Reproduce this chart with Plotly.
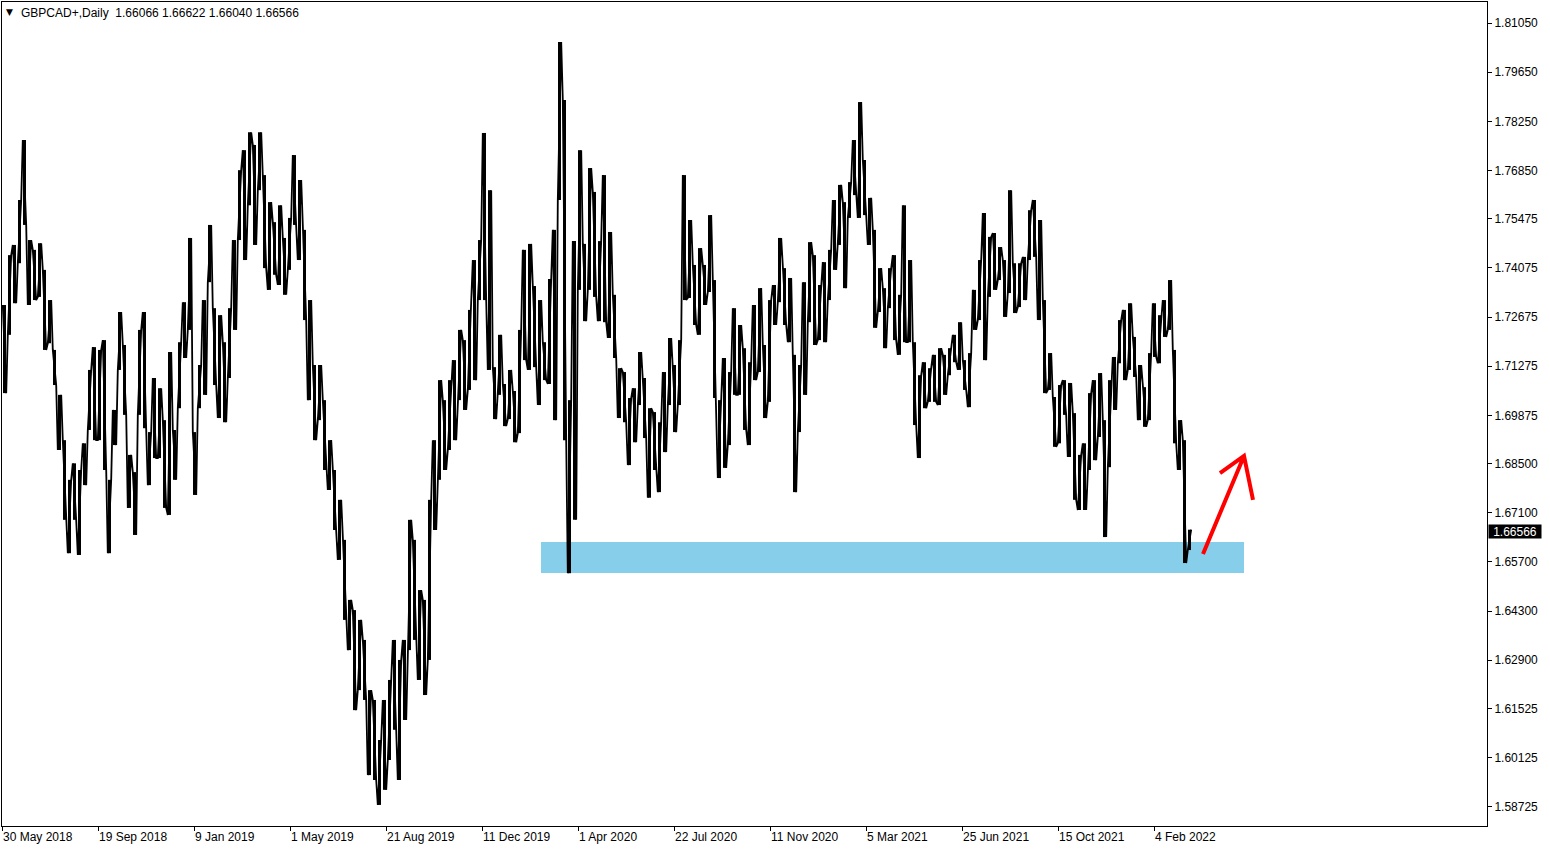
import plotly.graph_objects as go

# ---------------- data ----------------
symbol_title = "GBPCAD+,Daily"
last_ohlc = ["1.66066", "1.66622", "1.66040", "1.66566"]
last_close = 1.66566
bars_per_chunk = 5  # each entry below summarises 5 consecutive daily bars

highs = [
    1.7302, 1.7444, 1.7473, 1.7601, 1.7772, 1.7487, 1.7459, 1.7478, 1.7402, 1.7316,
    1.7174, 1.7046, 1.6917, 1.6804, 1.6851, 1.6832, 1.6908, 1.7117, 1.7182, 1.7174,
    1.7202, 1.6804, 1.7003, 1.7282, 1.7188, 1.6875, 1.6826, 1.7231, 1.7282, 1.6940,
    1.7094, 1.7065, 1.6974, 1.7168, 1.6946, 1.7196, 1.7310, 1.7493, 1.6940, 1.7131,
    1.7316, 1.7530, 1.7293, 1.7273, 1.7196, 1.7293, 1.7487, 1.7686, 1.7743, 1.7794,
    1.7758, 1.7794, 1.7672, 1.7595, 1.7538, 1.7586, 1.7493, 1.7550, 1.7729, 1.7658,
    1.7516, 1.7316, 1.7131, 1.7131, 1.7031, 1.6917, 1.6832, 1.6747, 1.6633, 1.6462,
    1.6433, 1.6405, 1.6348, 1.6205, 1.6177, 1.6063, 1.6177, 1.6234, 1.6348, 1.6291,
    1.6348, 1.6690, 1.6633, 1.6490, 1.6462, 1.6747, 1.6917, 1.7088, 1.7031, 1.7088,
    1.7145, 1.7231, 1.7202, 1.7288, 1.7430, 1.7487, 1.7792, 1.7629, 1.7125, 1.7217,
    1.7077, 1.7117, 1.7057, 1.7231, 1.7459, 1.7476, 1.7356, 1.7316, 1.7196, 1.7376,
    1.7516, 1.8051, 1.7886, 1.7031, 1.7484, 1.7743, 1.7476, 1.7692, 1.7624, 1.7484,
    1.7672, 1.7510, 1.7331, 1.7122, 1.7111, 1.7037, 1.7065, 1.7168, 1.7094, 1.7008,
    1.6997, 1.6968, 1.7111, 1.7208, 1.7131, 1.7202, 1.7672, 1.7544, 1.7416, 1.7464,
    1.7416, 1.7558, 1.7373, 1.7031, 1.7151, 1.7111, 1.7293, 1.7245, 1.7179, 1.7139,
    1.7302, 1.7350, 1.7188, 1.7316, 1.7359, 1.7493, 1.7407, 1.7379, 1.7160, 1.7131,
    1.7367, 1.7481, 1.7444, 1.7359, 1.7424, 1.7459, 1.7601, 1.7644, 1.7595, 1.7652,
    1.7772, 1.7880, 1.7715, 1.7607, 1.7516, 1.7407, 1.7350, 1.7407, 1.7444, 1.7331,
    1.7586, 1.7430, 1.7196, 1.7102, 1.7139, 1.7122, 1.7160, 1.7179, 1.7160, 1.7179,
    1.7217, 1.7253, 1.7145, 1.7165, 1.7345, 1.7430, 1.7564, 1.7496, 1.7507, 1.7467,
    1.7430, 1.7629, 1.7421, 1.7421, 1.7439, 1.7572, 1.7601, 1.7544, 1.7316, 1.7165,
    1.7040, 1.7074, 1.7088, 1.7080, 1.6994, 1.6875, 1.6908, 1.7051, 1.7088, 1.7108,
    1.6974, 1.7088, 1.7154, 1.7259, 1.7288, 1.7307, 1.7211, 1.7131, 1.7068, 1.7165,
    1.7307, 1.7273, 1.7316, 1.7373, 1.7174, 1.6974, 1.6917, 1.6662,
]

lows = [
    1.7051, 1.7217, 1.7307, 1.7421, 1.7530, 1.7302, 1.7316, 1.7325, 1.7174, 1.7193,
    1.7074, 1.6889, 1.6690, 1.6595, 1.6690, 1.6590, 1.6789, 1.6946, 1.6917, 1.6917,
    1.6832, 1.6595, 1.6903, 1.7117, 1.6989, 1.6724, 1.6647, 1.6989, 1.6951, 1.6789,
    1.6866, 1.6866, 1.6724, 1.6704, 1.6804, 1.7008, 1.7151, 1.7231, 1.6761, 1.7008,
    1.7046, 1.7367, 1.7074, 1.6980, 1.6968, 1.7094, 1.7231, 1.7487, 1.7430, 1.7586,
    1.7473, 1.7629, 1.7407, 1.7345, 1.7388, 1.7359, 1.7331, 1.7402, 1.7530, 1.7430,
    1.7259, 1.7031, 1.6917, 1.6974, 1.6832, 1.6775, 1.6661, 1.6576, 1.6405, 1.6319,
    1.6148, 1.6205, 1.6177, 1.5963, 1.5949, 1.5878, 1.5921, 1.6006, 1.6092, 1.5949,
    1.6120, 1.6319, 1.6348, 1.6234, 1.6191, 1.6291, 1.6661, 1.6804, 1.6832, 1.6889,
    1.6917, 1.7031, 1.7003, 1.7060, 1.7088, 1.7316, 1.7316, 1.7117, 1.6977, 1.7046,
    1.6957, 1.6977, 1.6911, 1.6937, 1.7145, 1.7117, 1.7125, 1.7017, 1.7088, 1.7077,
    1.6974, 1.7601, 1.6917, 1.6538, 1.6690, 1.7345, 1.7256, 1.7345, 1.7325, 1.7256,
    1.7253, 1.7208, 1.7151, 1.6980, 1.6968, 1.6846, 1.6911, 1.7017, 1.6923, 1.6753,
    1.6832, 1.6769, 1.6883, 1.7017, 1.6940, 1.7017, 1.7316, 1.7322, 1.7245, 1.7217,
    1.7302, 1.7339, 1.7037, 1.6809, 1.6838, 1.6903, 1.7046, 1.7046, 1.6946, 1.6903,
    1.7088, 1.7111, 1.6980, 1.7026, 1.7245, 1.7310, 1.7245, 1.7196, 1.6769, 1.6940,
    1.7046, 1.7253, 1.7188, 1.7202, 1.7196, 1.7316, 1.7402, 1.7473, 1.7350, 1.7550,
    1.7615, 1.7550, 1.7558, 1.7473, 1.7237, 1.7282, 1.7179, 1.7293, 1.7202, 1.7160,
    1.7196, 1.7196, 1.6960, 1.6866, 1.7008, 1.7026, 1.7026, 1.7017, 1.7046, 1.7102,
    1.7139, 1.7117, 1.7060, 1.7011, 1.7231, 1.7259, 1.7145, 1.7325, 1.7345, 1.7373,
    1.7268, 1.7336, 1.7279, 1.7296, 1.7316, 1.7430, 1.7439, 1.7259, 1.7051, 1.7060,
    1.6898, 1.6908, 1.6989, 1.6869, 1.6747, 1.6718, 1.6718, 1.6832, 1.6860, 1.6926,
    1.6641, 1.6840, 1.7003, 1.7136, 1.7088, 1.7117, 1.7097, 1.6974, 1.6955, 1.6974,
    1.7154, 1.7136, 1.7211, 1.7231, 1.6908, 1.6832, 1.6567, 1.6604,
]

date_labels = ["30 May 2018", "19 Sep 2018", "9 Jan 2019", "1 May 2019", "21 Aug 2019",
               "11 Dec 2019", "1 Apr 2020", "22 Jul 2020", "11 Nov 2020", "5 Mar 2021",
               "25 Jun 2021", "15 Oct 2021", "4 Feb 2022"]
date_label_bars = [0, 96, 192, 288, 384, 480, 576, 672, 768, 864, 960, 1056, 1152]

price_ticks = [1.58725, 1.60125, 1.61525, 1.62900, 1.64300, 1.65700, 1.67100, 1.68500,
               1.69875, 1.71275, 1.72675, 1.74075, 1.75475, 1.76850, 1.78250, 1.79650, 1.81050]

zone_low, zone_high = 1.65388, 1.66271
zone_start_bar, zone_end_bar = 539, 1242
arrow_start = (1201, 1.6593)
arrow_tip = (1242, 1.6872)
arrow_left = (1218, 1.6823)
arrow_right = (1251, 1.6747)

x_range = [0, 1485]
y_range = [1.5818, 1.8165]

# --------------- figure ---------------
font_main = "Liberation Sans, Arial, sans-serif"

# vertical high-low segments
xs, ys = [], []
for i, (h, l) in enumerate(zip(highs, lows)):
    xc = i * bars_per_chunk + bars_per_chunk / 2
    xs += [xc, xc, None]
    ys += [l, h, None]

# zig-zag path through each range so the bars read as a dense daily series
zx, zy = [], []
for i, (h, l) in enumerate(zip(highs, lows)):
    x0 = i * bars_per_chunk + 0.8
    x1 = i * bars_per_chunk + 4.2
    if i % 2 == 0:
        zx += [x0, x1]
        zy += [h, l]
    else:
        zx += [x0, x1]
        zy += [l, h]

fig = go.Figure()
fig.add_trace(go.Scatter(x=zx, y=zy, mode="lines",
                         line=dict(color="black", width=1.8),
                         hoverinfo="skip", showlegend=False))
fig.add_trace(go.Scatter(x=xs, y=ys, mode="lines",
                         line=dict(color="black", width=3),
                         hoverinfo="skip", showlegend=False))

# support zone
fig.add_shape(type="rect", xref="x", yref="y",
              x0=zone_start_bar, x1=zone_end_bar, y0=zone_low, y1=zone_high,
              fillcolor="#87CEEB", line=dict(width=0), layer="below")

# red arrow
path = (f"M {arrow_start[0]},{arrow_start[1]} L {arrow_tip[0]},{arrow_tip[1]} "
        f"M {arrow_left[0]},{arrow_left[1]} L {arrow_tip[0]},{arrow_tip[1]} "
        f"L {arrow_right[0]},{arrow_right[1]}")
fig.add_shape(type="path", xref="x", yref="y", path=path,
              line=dict(color="#FF0000", width=4))

annotations = []
for b, t in zip(date_label_bars, date_labels):
    annotations.append(dict(x=b, y=0, xref="x", yref="paper", text=t,
                            showarrow=False, xanchor="left", yanchor="top",
                            xshift=-1, yshift=-2,
                            font=dict(family=font_main, size=12, color="black")))

# header
annotations.append(dict(x=2, y=1, xref="x", yref="paper", text="▼",
                        showarrow=False, xanchor="left", yanchor="top", yshift=-3,
                        font=dict(family="DejaVu Sans", size=9, color="black")))
annotations.append(dict(x=17, y=1, xref="x", yref="paper",
                        text=symbol_title + "\u00a0\u00a0" + " ".join(last_ohlc),
                        showarrow=False, xanchor="left", yanchor="top", yshift=-2,
                        font=dict(family=font_main, size=12, color="black")))

# current price label
annotations.append(dict(x=1, y=last_close, xref="paper", yref="y",
                        text=f"{last_close:.5f}", showarrow=False,
                        xanchor="left", yanchor="middle", xshift=1,
                        width=52, height=13, borderpad=0, bgcolor="black",
                        font=dict(family=font_main, size=12, color="white")))

fig.update_layout(
    width=1550, height=850,
    margin=dict(l=2, r=63, t=2, b=24),
    paper_bgcolor="white", plot_bgcolor="white",
    showlegend=False,
    annotations=annotations,
    xaxis=dict(range=x_range, showgrid=False, zeroline=False,
               showline=True, linecolor="black", linewidth=1, mirror=True,
               tickmode="array", tickvals=date_label_bars, ticktext=[""] * len(date_label_bars),
               ticks="outside", ticklen=4, tickcolor="black", showticklabels=False),
    yaxis=dict(range=y_range, side="right", showgrid=False, zeroline=False,
               showline=True, linecolor="black", linewidth=1, mirror=True,
               tickmode="array", tickvals=price_ticks,
               ticktext=[f"{v:.5f}" for v in price_ticks],
               ticks="outside", ticklen=4, tickcolor="black",
               tickfont=dict(family=font_main, size=12, color="black")),
)

fig.write_html("out.html", config={"displayModeBar": False},
               post_script="document.body.style.margin='0';document.body.style.padding='0';")
